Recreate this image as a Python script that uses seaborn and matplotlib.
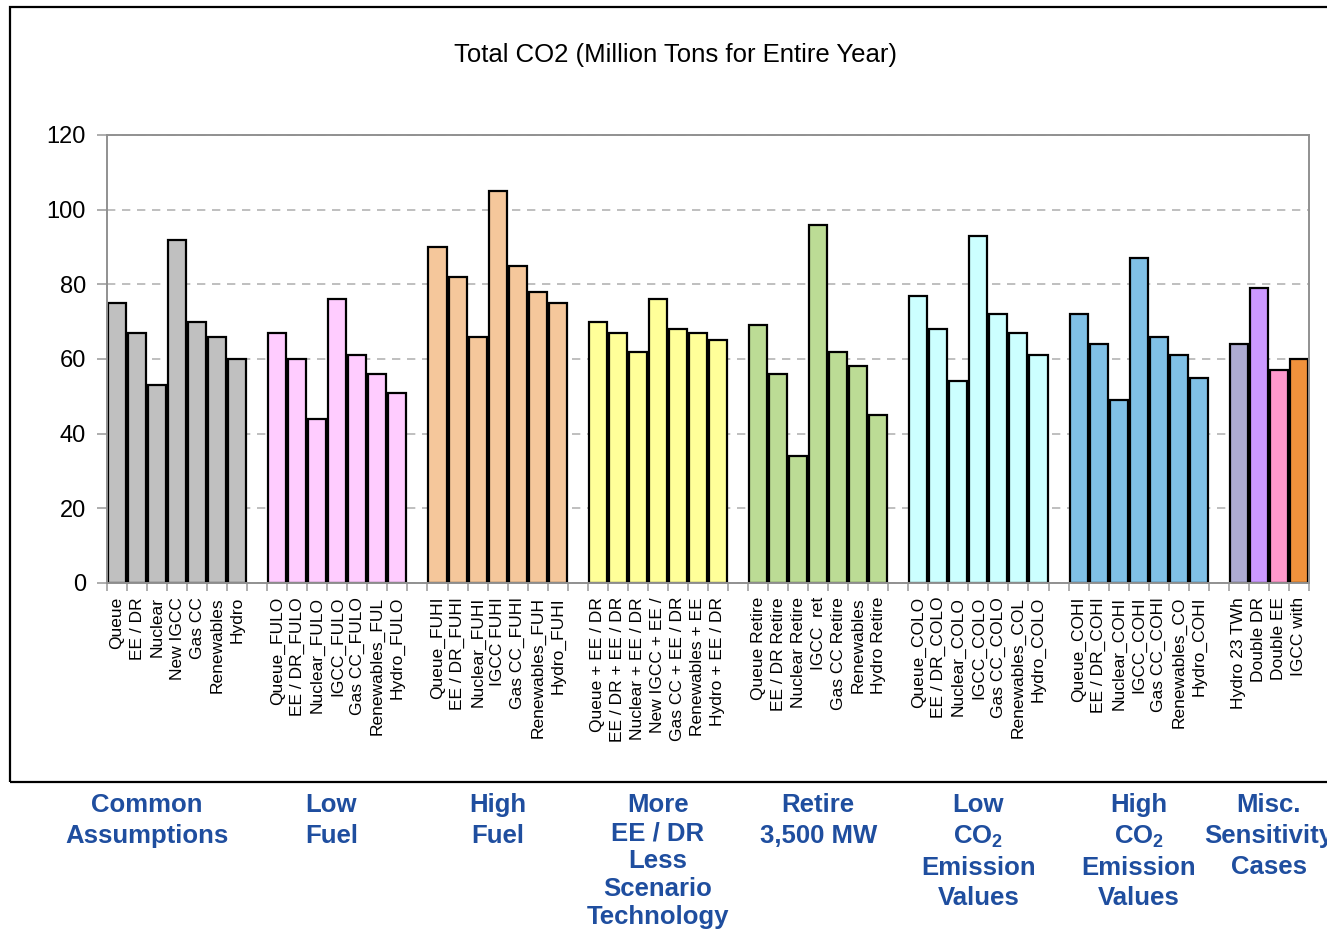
import numpy as np
import pandas as pd
import matplotlib
matplotlib.use("Agg")
import matplotlib.pyplot as plt
import matplotlib.transforms as mtransforms
from matplotlib.patches import Rectangle
import seaborn as sns

# ---- data -------------------------------------------------------------
group_keys = ["common", "low_fuel", "high_fuel", "more_eedr", "retire",
              "low_co2", "high_co2", "misc"]

group_titles = [
    "Common\nAssumptions",
    "Low\nFuel",
    "High\nFuel",
    "More\nEE / DR\nLess\nScenario\nTechnology",
    "Retire\n3,500 MW",
    "Low\nCO$_\\mathbf{2}$\nEmission\nValues",
    "High\nCO$_\\mathbf{2}$\nEmission\nValues",
    "Misc.\nSensitivity\nCases",
]

common_labels = ["Queue", "EE / DR", "Nuclear", "New IGCC", "Gas CC",
                 "Renewables", "Hydro"]
common_values = [75, 67, 53, 92, 70, 66, 60]

low_fuel_labels = ["Queue_FULO", "EE / DR_FULO", "Nuclear_FULO", "IGCC_FULO",
                   "Gas CC_FULO", "Renewables_FUL", "Hydro_FULO"]
low_fuel_values = [67, 60, 44, 76, 61, 56, 51]

high_fuel_labels = ["Queue_FUHI", "EE / DR_FUHI", "Nuclear_FUHI", "IGCC FUHI",
                    "Gas CC_FUHI", "Renewables_FUH", "Hydro_FUHI"]
high_fuel_values = [90, 82, 66, 105, 85, 78, 75]

more_eedr_labels = ["Queue + EE / DR", "EE / DR + EE / DR", "Nuclear + EE / DR",
                    "New IGCC + EE /", "Gas CC + EE / DR", "Renewables + EE",
                    "Hydro + EE / DR"]
more_eedr_values = [70, 67, 62, 76, 68, 67, 65]

retire_labels = ["Queue Retire", "EE / DR Retire", "Nuclear Retire", "IGCC  ret",
                 "Gas CC Retire", "Renewables", "Hydro Retire"]
retire_values = [69, 56, 34, 96, 62, 58, 45]

low_co2_labels = ["Queue_COLO", "EE / DR_COLO", "Nuclear_COLO", "IGCC_COLO",
                  "Gas CC_COLO", "Renewables_COL", "Hydro_COLO"]
low_co2_values = [77, 68, 54, 93, 72, 67, 61]

high_co2_labels = ["Queue_COHI", "EE / DR_COHI", "Nuclear_COHI", "IGCC_COHI",
                   "Gas CC_COHI", "Renewables_CO", "Hydro_COHI"]
high_co2_values = [72, 64, 49, 87, 66, 61, 55]

misc_labels = ["Hydro 23 TWh", "Double DR", "Double EE", "IGCC with"]
misc_values = [64, 79, 57, 60]

group_colors = {
    "common": "#C0C0C0",
    "low_fuel": "#FFCCFF",
    "high_fuel": "#F5C79B",
    "more_eedr": "#FFFF99",
    "retire": "#BCDC95",
    "low_co2": "#CCFFFF",
    "high_co2": "#80C0E6",
}
misc_colors = ["#AEABD3", "#CC99FF", "#FF99CC", "#F0923C"]

all_labels = [common_labels, low_fuel_labels, high_fuel_labels, more_eedr_labels,
              retire_labels, low_co2_labels, high_co2_labels, misc_labels]
all_values = [common_values, low_fuel_values, high_fuel_values, more_eedr_values,
              retire_values, low_co2_values, high_co2_values, misc_values]

# ---- table: one slot per bar, one empty slot between groups ------------
rows = []
slot = 0
group_centers = []
for key, labels, values in zip(group_keys, all_labels, all_values):
    start = slot
    for i, (lab, val) in enumerate(zip(labels, values)):
        hue = f"misc{i}" if key == "misc" else key
        rows.append({"pos": slot, "value": val, "group": hue, "label": lab})
        slot += 1
    group_centers.append((start + slot - 1) / 2)
    slot += 1
n_slots = slot - 1
df = pd.DataFrame(rows)

palette = dict(group_colors)
for i, c in enumerate(misc_colors):
    palette[f"misc{i}"] = c

# ---- style ------------------------------------------------------------
sns.set_style("white")
plt.rcParams["font.family"] = ["Liberation Sans", "DejaVu Sans"]
plt.rcParams["mathtext.fontset"] = "custom"
plt.rcParams["mathtext.rm"] = "Liberation Sans"
plt.rcParams["mathtext.bf"] = "Liberation Sans:bold"
plt.rcParams["text.color"] = "black"
plt.rcParams["xtick.labelcolor"] = "black"
plt.rcParams["ytick.labelcolor"] = "black"

fig = plt.figure(figsize=(13.27, 9.31), dpi=100)
ax = fig.add_axes([0.0806, 0.3738, 0.9058, 0.4812])

sns.barplot(data=df, x="pos", y="value", hue="group", palette=palette,
            native_scale=True, dodge=False, width=0.9, errorbar=None,
            saturation=1, edgecolor="black", linewidth=1.6, legend=False, ax=ax)

ax.set_xlim(-0.5, n_slots - 0.5)
ax.set_ylim(0, 120)
ax.set_xlabel("")
ax.set_ylabel("")

# x labels under each bar, boundary ticks between slots
ax.set_xticks(df["pos"].to_numpy())
ax.set_xticklabels(df["label"], rotation=90, fontsize=12.5, va="top", ha="center",
                   color="black")
ax.tick_params(axis="x", which="major", length=0, pad=10)
ax.set_xticks(np.arange(-0.5, n_slots, 1.0), minor=True)
ax.tick_params(axis="x", which="minor", length=6, width=1.2, color="#A0A0A0",
               direction="out", bottom=True)

ax.set_yticks(np.arange(0, 121, 20))
ax.tick_params(axis="y", which="major", labelsize=17, length=7, width=1.2,
               color="#A0A0A0", labelcolor="black", direction="out", left=True,
               pad=8)

ax.set_axisbelow(True)
ax.yaxis.grid(True, linestyle=(0, (5, 4)), color="#B4B4B4", linewidth=1.2)
for side, sp in ax.spines.items():
    sp.set_visible(True)
    sp.set_color("#909090")
    sp.set_linewidth(1.4)

# chart title
fig.text(0.509, 0.9405, "Total CO2 (Million Tons for Entire Year)",
         ha="center", va="center", fontsize=18.5, color="black")

# outer chart frame
fig.patches.append(Rectangle((10 / 1327, 1 - 782 / 931), 1.0, (782 - 7) / 931,
                             transform=fig.transFigure, fill=False,
                             edgecolor="black", linewidth=1.6))

# group captions below the frame
trans = mtransforms.blended_transform_factory(ax.transData, fig.transFigure)
caption_x = list(group_centers)
caption_x[0] -= 1.5
caption_x[1] -= 0.3
caption_spacing = [1.34, 1.34, 1.34, 1.21, 1.34, 1.31, 1.31, 1.36]
for x, title, ls in zip(caption_x, group_titles, caption_spacing):
    fig.text(x, 0.148, title, transform=trans, ha="center", va="top",
             fontsize=18.5, fontweight="bold", color="#1F4E9F",
             linespacing=ls, clip_on=False)

fig.savefig("out.png", dpi=100)
